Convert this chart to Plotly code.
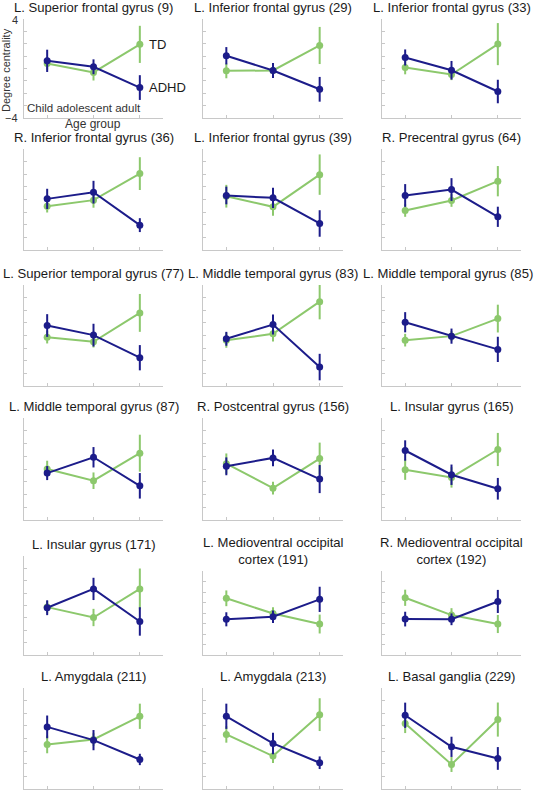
import plotly.graph_objects as go

titles = [
    "L. Superior frontal gyrus (9)", "L. Inferior frontal gyrus (29)", "L. Inferior frontal gyrus (33)",
    "R. Inferior frontal gyrus (36)", "L. Inferior frontal gyrus (39)", "R. Precentral gyrus (64)",
    "L. Superior temporal gyrus (77)", "L. Middle temporal gyrus (83)", "L. Middle temporal gyrus (85)",
    "L. Middle temporal gyrus (87)", "R. Postcentral gyrus (156)", "L. Insular gyrus (165)",
    "L. Insular gyrus (171)", "L. Medioventral occipital<br>cortex (191)", "R. Medioventral occipital<br>cortex (192)",
    "L. Amygdala (211)", "L. Amygdala (213)", "L. Basal ganglia (229)",
]
age_groups = ["Child", "adolescent", "adult"]

adhd_mean = [
    [0.62, 0.14, -1.54], [1.03, -0.16, -1.68], [0.89, -0.14, -1.86],
    [0.05, 0.58, -2.03], [0.32, 0.13, -1.90], [0.32, 0.79, -1.37],
    [0.79, 0.03, -1.76], [-0.26, 0.87, -2.50], [1.05, -0.05, -1.10],
    [-0.32, 0.92, -1.32], [0.21, 0.87, -0.79], [1.45, -0.45, -1.55],
    [-0.18, 1.34, -1.29], [-0.60, -0.35, 1.30], [-0.58, -0.60, 1.10],
    [0.92, -0.13, -1.66], [1.76, -0.39, -1.92], [1.84, -0.66, -1.58],
]
adhd_err = [
    [0.9, 0.6, 1.0], [0.7, 0.6, 1.0], [0.65, 0.75, 0.95],
    [0.8, 0.9, 0.55], [0.7, 0.8, 1.05], [0.9, 0.9, 0.8],
    [0.9, 0.9, 1.0], [0.55, 0.8, 1.05], [0.8, 0.6, 1.0],
    [0.55, 0.8, 1.0], [0.7, 0.65, 1.1], [0.8, 0.8, 0.85],
    [0.6, 0.9, 1.15], [0.67, 0.6, 1.2], [0.7, 0.56, 1.1],
    [0.9, 0.8, 0.45], [1.0, 0.85, 0.5], [1.0, 0.8, 0.9],
]
td_mean = [
    [0.41, -0.32, 1.95], [-0.19, -0.16, 1.86], [0.08, -0.49, 1.97],
    [-0.53, -0.05, 2.05], [0.26, -0.58, 1.97], [-0.87, -0.08, 1.45],
    [-0.13, -0.50, 1.79], [-0.37, 0.13, 2.68], [-0.37, -0.05, 1.34],
    [0.00, -0.92, 1.24], [0.42, -1.50, 0.82], [-0.05, -0.66, 1.53],
    [-0.13, -0.97, 1.34], [1.40, -0.05, -1.05], [1.45, -0.20, -1.05],
    [-0.47, -0.08, 1.76], [0.32, -1.39, 1.89], [1.18, -2.05, 1.50],
]
td_err = [
    [0.5, 0.65, 1.5], [0.6, 0.5, 1.5], [0.55, 0.45, 1.7],
    [0.5, 0.6, 1.3], [0.9, 0.7, 1.6], [0.5, 0.5, 1.2],
    [0.5, 0.45, 1.5], [0.6, 0.6, 1.4], [0.5, 0.4, 1.1],
    [0.65, 0.65, 1.45], [0.8, 0.5, 1.25], [0.8, 0.8, 1.3],
    [0.5, 0.7, 1.65], [0.75, 0.6, 0.9], [0.77, 0.66, 0.86],
    [0.7, 0.5, 1.0], [0.65, 0.55, 1.3], [0.75, 0.6, 1.35],
]
y_ticks = [-4, -3, -2, -1, 0, 1, 2, 3, 4]

W, H = 536, 792
col_x = [(24, 163), (203, 343), (382, 521)]
row_y = [(19, 118), (149, 250), (285, 386), (418, 520), (556, 655), (688, 789)]
# panels whose two-line titles shrink the plotting box
short_top = {13: 571, 14: 571}

BLUE = "#1c1c8a"
GREEN = "#8cc86c"
AXC = "#c8c8c8"
FONT = "Liberation Sans, Arial, sans-serif"
x_pos = [1, 2, 3]

fig = go.Figure()
annotations = []
for i, title in enumerate(titles):
    r, c = divmod(i, 3)
    x0, x1 = col_x[c]
    y0, y1 = row_y[r]
    y0 = short_top.get(i, y0)
    n = "" if i == 0 else str(i + 1)
    xa, ya = "x" + n, "y" + n
    for mean, err, color in ((td_mean[i], td_err[i], GREEN), (adhd_mean[i], adhd_err[i], BLUE)):
        fig.add_trace(go.Scatter(
            x=x_pos, y=mean, mode="lines+markers", xaxis=xa, yaxis=ya,
            line=dict(color=color, width=2), marker=dict(color=color, size=7),
            error_y=dict(type="data", array=err, width=0, thickness=2, color=color),
            showlegend=False, hoverinfo="skip"))
    fig.layout["xaxis" + n] = dict(
        domain=[x0 / W, x1 / W], range=[0.5, 3.5], anchor=ya,
        tickvals=x_pos, showticklabels=False, ticks="inside", ticklen=3, tickcolor=AXC,
        showline=True, linecolor=AXC, linewidth=1, showgrid=False, zeroline=False)
    fig.layout["yaxis" + n] = dict(
        domain=[1 - y1 / H, 1 - y0 / H], range=[-4, 4], anchor=xa,
        tickvals=y_ticks, showticklabels=False, ticks="inside", ticklen=3, tickcolor=AXC,
        showline=True, linecolor=AXC, linewidth=1, showgrid=False, zeroline=False)
    if i == 8:
        tx, anchor = 535 / W, "right"
    else:
        tx, anchor = (x0 + x1) / 2 / W, "center"
    annotations.append(dict(
        text=title, xref="paper", yref="paper", x=tx, y=1 - (y0 - 2) / H,
        xanchor=anchor, yanchor="bottom", showarrow=False,
        font=dict(family=FONT, size=13.1, color="#1a1a1a")))

# Axis labels and annotations for first panel
annotations += [
    dict(text="4", xref="paper", yref="paper", x=20 / W, y=1 - 20 / H, xanchor="right", yanchor="middle",
         showarrow=False, font=dict(family=FONT, size=11, color="#333")),
    dict(text="\u22124", xref="paper", yref="paper", x=20 / W, y=1 - 118 / H, xanchor="right", yanchor="middle",
         showarrow=False, font=dict(family=FONT, size=11, color="#333")),
    dict(text="Degree centrality", xref="paper", yref="paper", x=6 / W, y=1 - 70 / H, textangle=-90,
         xanchor="center", yanchor="middle", showarrow=False, font=dict(family=FONT, size=11, color="#333")),
    dict(text="Age group", xref="paper", yref="paper", x=93 / W, y=1 - 124 / H, xanchor="center", yanchor="middle",
         showarrow=False, font=dict(family=FONT, size=12, color="#333")),
    dict(text=" ".join(age_groups), xref="paper", yref="paper", x=84 / W, y=1 - 108 / H,
         xanchor="center", yanchor="middle", showarrow=False, font=dict(family=FONT, size=11.5, color="#333")),
    dict(text="TD", xref="x", yref="y", x=3.15, y=td_mean[0][2], xanchor="left", yanchor="middle",
         showarrow=False, font=dict(family=FONT, size=13, color="#1a1a1a")),
    dict(text="ADHD", xref="x", yref="y", x=3.15, y=adhd_mean[0][2], xanchor="left", yanchor="middle",
         showarrow=False, font=dict(family=FONT, size=13, color="#1a1a1a")),
]
fig.update_layout(width=W, height=H, margin=dict(l=0, r=0, t=0, b=0),
                  paper_bgcolor="white", plot_bgcolor="white", annotations=annotations)
fig.write_html("out.html", config={"displayModeBar": False},
               post_script="document.body.style.margin='0';document.body.style.overflow='hidden';")
